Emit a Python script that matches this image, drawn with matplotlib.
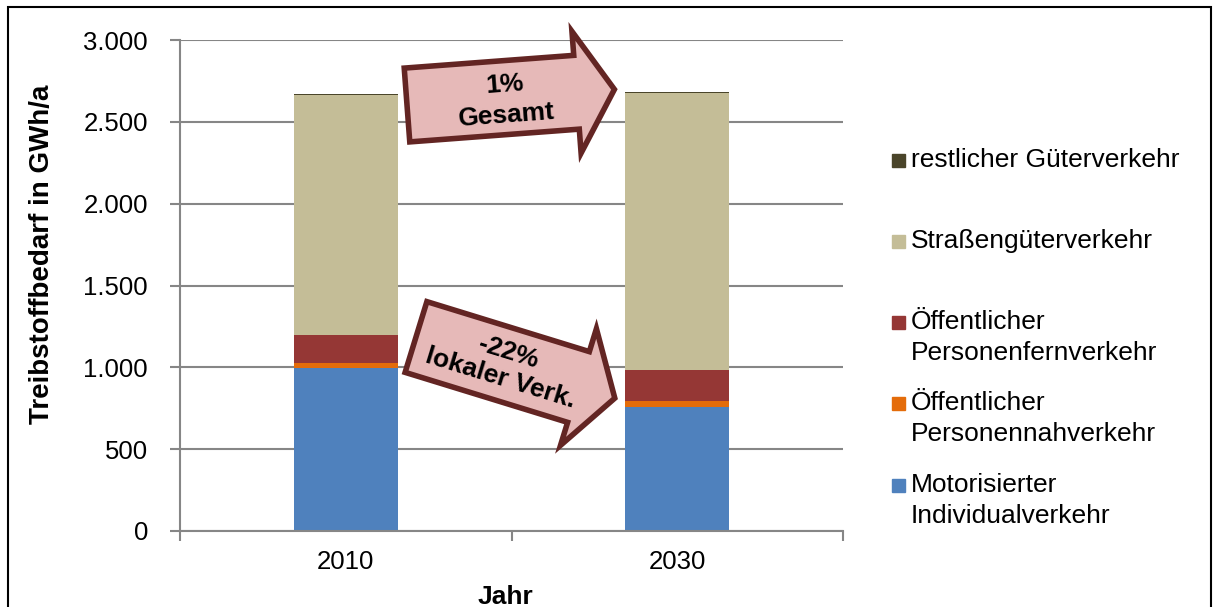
import numpy as np
import matplotlib.pyplot as plt
from matplotlib.patches import Polygon, Rectangle

plt.rcParams['font.family'] = ['Liberation Sans', 'DejaVu Sans']

# Treibstoffbedarf in GWh/a
jahre = ['2010', '2030']
miv = [997, 758]          # Motorisierter Individualverkehr
oepnv = [28, 36]          # Öffentlicher Personennahverkehr
oepfv = [172, 190]        # Öffentlicher Personenfernverkehr
strasse = [1465, 1690]    # Straßengüterverkehr
rest_gv = [8, 9]          # restlicher Güterverkehr

serien = [
    (miv, '#4F81BD', ['Motorisierter', 'Individualverkehr']),
    (oepnv, '#E46C0A', ['Öffentlicher', 'Personennahverkehr']),
    (oepfv, '#953735', ['Öffentlicher', 'Personenfernverkehr']),
    (strasse, '#C4BD97', ['Straßengüterverkehr']),
    (rest_gv, '#4A452A', ['restlicher Güterverkehr']),
]

W, H = 1214, 607
fig = plt.figure(figsize=(W / 100, H / 100), dpi=100)
ax = fig.add_axes([180 / W, 1 - 531 / H, (843 - 180) / W, (531 - 40) / H])

grau = '#868686'
x = np.arange(len(jahre))
boden = np.zeros(len(jahre))
for werte, farbe, _ in serien:
    ax.bar(x, werte, width=0.315, bottom=boden, color=farbe, zorder=3)
    boden += np.array(werte)

ax.set_xlim(-0.5, 1.5)
ax.set_ylim(0, 3000)
ax.set_yticks(np.arange(0, 3001, 500))
ax.set_yticklabels(['0', '500', '1.000', '1.500', '2.000', '2.500', '3.000'])
ax.set_xticks(x)
ax.set_xticklabels(jahre)
ax.set_xticks([-0.5, 0.5, 1.5], minor=True)
ax.tick_params(axis='x', which='major', length=0, pad=14, labelsize=18.5)
ax.tick_params(axis='x', which='minor', length=7, width=1.5, color=grau, direction='out')
ax.tick_params(axis='y', length=7, width=1.5, color=grau, labelsize=18.5, pad=16)
ax.grid(axis='y', color=grau, linewidth=1.5, zorder=0)
for s in ['top', 'right']:
    ax.spines[s].set_visible(False)
for s in ['left', 'bottom']:
    ax.spines[s].set_color(grau)
    ax.spines[s].set_linewidth(1.5)
    ax.spines[s].set_zorder(4)

fig.text(42 / W, 1 - 254 / H, 'Treibstoffbedarf in GWh/a', rotation=90,
         ha='center', va='center', fontsize=20, fontweight='bold')
fig.text(505 / W, 1 - 597 / H, 'Jahr', ha='center', va='center',
         fontsize=19, fontweight='bold')

# Legende, oberster Stapel zuerst
leg_y = [160, 241, 322, 403, 485]
for (werte, farbe, zeilen), yy in zip(serien[::-1], leg_y):
    fig.patches.append(Rectangle((892 / W, 1 - (yy + 6.5) / H), 13 / W, 13 / H,
                                 transform=fig.transFigure, color=farbe))
    for i, zeile in enumerate(zeilen):
        fig.text(911 / W, 1 - (yy + 31 * i) / H, zeile, ha='left', va='center',
                 fontsize=19)


def blockpfeil(start, laenge, winkel, schaft=74, kopf=122, kopf_l=38):
    # Pfeilumriss in Pixeln (y nach unten), dann in Figurkoordinaten
    punkte = np.array([
        [0, -schaft / 2], [laenge - kopf_l, -schaft / 2], [laenge - kopf_l, -kopf / 2],
        [laenge, 0], [laenge - kopf_l, kopf / 2], [laenge - kopf_l, schaft / 2],
        [0, schaft / 2]])
    w = np.radians(winkel)
    rot = np.array([[np.cos(w), -np.sin(w)], [np.sin(w), np.cos(w)]])
    p = punkte @ rot.T + np.array(start)
    fig.patches.append(Polygon(np.column_stack([p[:, 0] / W, 1 - p[:, 1] / H]),
                               closed=True, transform=fig.transFigure,
                               facecolor='#E6B9B8', edgecolor='#632523',
                               linewidth=4, joinstyle='miter', zorder=5))


blockpfeil((407, 105), 208, -4.3)
fig.text(505 / W, 1 - 85 / H, '1%', ha='center', va='center', rotation=4.3,
         fontsize=19, fontweight='bold', zorder=6)
fig.text(507 / W, 1 - 115 / H, 'Gesamt', ha='center', va='center', rotation=4.3,
         fontsize=19, fontweight='bold', zorder=6)

blockpfeil((416, 337), 208, 17.1)
fig.text(508 / W, 1 - 352 / H, '-22%', ha='center', va='center', rotation=-17.1,
         fontsize=19, fontweight='bold', zorder=6)
fig.text(500 / W, 1 - 378 / H, 'lokaler Verk.', ha='center', va='center',
         rotation=-17.1, fontsize=19, fontweight='bold', zorder=6)

# Rahmen
fig.patches.append(Rectangle((8 / W, -0.01), (1211 - 8) / W, 1 - 7 / H + 0.01,
                             transform=fig.transFigure, fill=False,
                             edgecolor='black', linewidth=1.5))

fig.savefig('out.png', dpi=100)
